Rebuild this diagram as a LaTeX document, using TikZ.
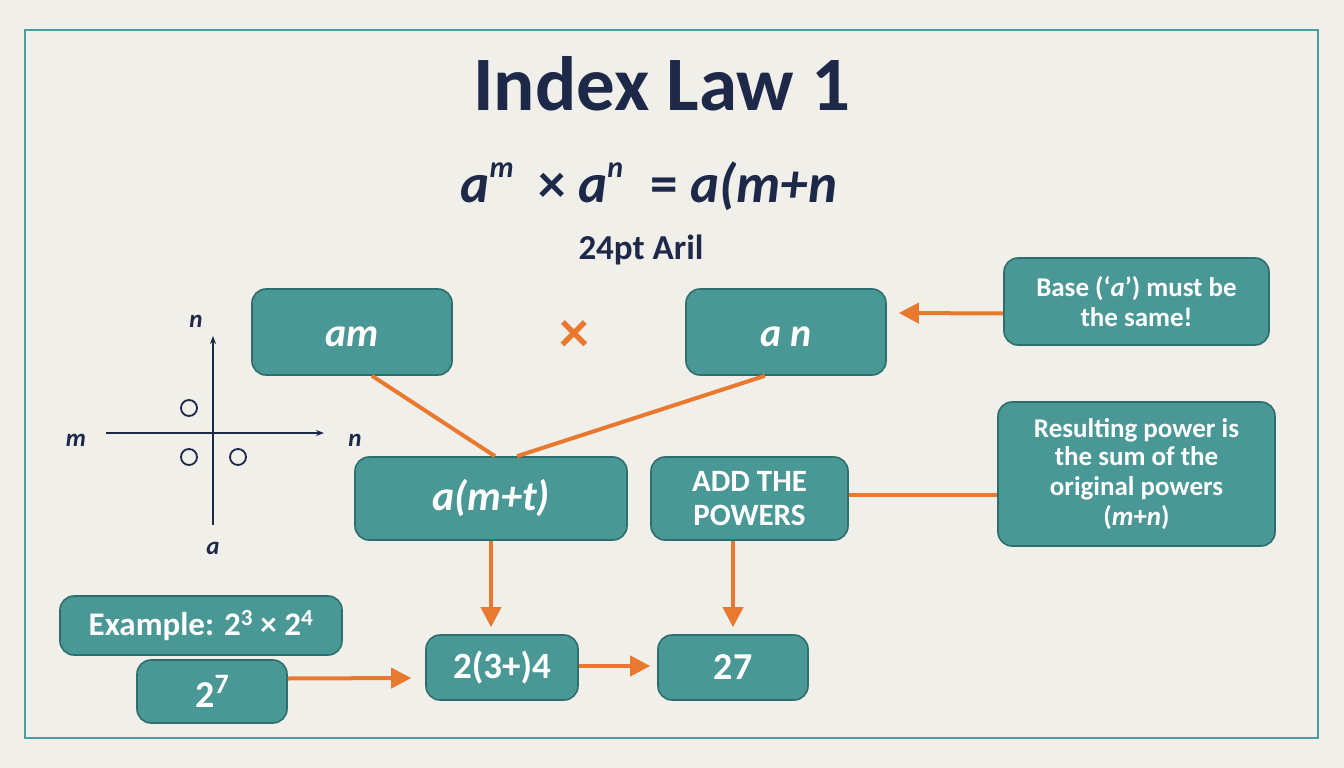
\documentclass[tikz,border=0pt]{standalone}
\usepackage{fontspec}
\setmainfont{Carlito}
\usetikzlibrary{arrows.meta,calc}
\definecolor{bgc}{HTML}{F1EFEA}
\definecolor{tealf}{HTML}{4A9896}
\definecolor{teald}{HTML}{2E6F6D}
\definecolor{framec}{HTML}{4A9E9C}
\definecolor{orng}{HTML}{E8792F}
\definecolor{navy}{HTML}{1E2849}
\newcommand{\fs}[1]{\fontsize{#1pt}{1.12\dimexpr#1pt\relax}\selectfont}
\newcommand{\lowr}[2]{\raisebox{-#1pt}[0pt][0pt]{#2}}
\tikzset{
  tbox/.style={draw=teald, line width=1.6pt, fill=tealf, rounded corners=14pt, inner sep=0pt, text=white, align=center, font=\bfseries},
  oline/.style={draw=orng, line width=4pt},
  oarr/.style={draw=orng, line width=4pt, -{Triangle[length=20pt,width=20pt]}},
  axis/.style={draw=navy, line width=1.6pt, -{Stealth[length=8pt,width=6pt]}},
  alab/.style={text=navy, font=\bfseries\itshape\fs{25}},
  circ/.style={draw=navy, line width=1.8pt},
}
\begin{document}
\begin{tikzpicture}[x=1pt,y=-1pt]
\useasboundingbox (0,0) rectangle (1344,768);
\fill[bgc] (0,0) rectangle (1344,768);
\draw[framec, line width=2.5pt] (25,30) rectangle (1318,738);

% titles
\node[text=navy, font=\bfseries\fs{77}] (title) at (662,84) {Index Law 1};
\node[text=navy, font=\bfseries\itshape\fs{55}] (formula) at (649,186) {a\raisebox{0.45em}{\fs{30}m}\hspace{0.45em}\upshape×\ \itshape a\raisebox{0.45em}{\fs{30}n}\hspace{0.5em}\upshape=\ \itshape a(m+n};
\node[text=navy, font=\bfseries\fs{35}] (sub) at (641,250) {24pt Aril};

% axis diagram
\coordinate (vb) at (213,525);
\coordinate (vt) at (213,336);
\coordinate (hl) at (106,433);
\coordinate (hr) at (324,433);
\draw[axis] (vb) -- (vt);
\draw[axis] (hl) -- (hr);
\node[alab] (ln) at (196,321) {n};
\node[alab] (lm) at (76,440) {m};
\node[alab] (lr) at (355,440) {n};
\node[alab] (la) at (213,548) {a};
\draw[circ] (189,408) circle (8);
\draw[circ] (189,457) circle (8);
\draw[circ] (238,457) circle (8);

% boxes
\node[tbox, minimum width=200pt, minimum height=86pt, font=\bfseries\itshape\fs{40}] (am) at (352,332) {\lowr{14}{am}};
\node[tbox, minimum width=200pt, minimum height=86pt, font=\bfseries\itshape\fs{40}] (an) at (786,332) {\lowr{14}{a n}};
\node[tbox, minimum width=265pt, minimum height=87pt, font=\bfseries\fs{27}] (base) at (1136.5,301.5) {Base (‘\textit{a}’) must be\\the same!};
\node[tbox, minimum width=272pt, minimum height=83pt, font=\bfseries\itshape\fs{42}] (amt) at (491,498.5) {\lowr{12}{a(m+t)}};
\node[tbox, minimum width=197pt, minimum height=83pt, font=\bfseries\fs{31}] (add) at (749.5,498.5) {ADD THE\\POWERS};
\node[tbox, minimum width=277pt, minimum height=144pt, font=\bfseries\fs{27}] (res) at (1136.5,474) {\raisebox{-2pt}{Resulting power is}\\the sum of the\\original powers\\(\textit{m}+\textit{n})};
\node[tbox, minimum width=282pt, minimum height=59pt, font=\bfseries\fs{33}] (ex) at (201,625.5) {Example: 2\textsuperscript{3} × 2\textsuperscript{4}};
\node[tbox, minimum width=150pt, minimum height=63pt, font=\bfseries\fs{38}] (s27) at (212,691.5) {2\raisebox{0.35em}{\fs{28}7}};
\node[tbox, minimum width=152pt, minimum height=65pt, font=\bfseries\fs{37}] (mid) at (502,667.5) {2(3+)4};
\node[tbox, minimum width=150pt, minimum height=65pt, font=\bfseries\fs{38}] (r27) at (733,667.5) {27};

% times sign
\node[text=orng, font=\bfseries\fs{60}] (times) at (574,337) {×};

% connectors
\coordinate (ae) at ($(add.east)+(0,-4)$);
\draw[oline] ($(am.south)+(20,0)$) -- ($(amt.north)+(4,0)$);
\draw[oline] ($(an.south)+(-21,0)$) -- ($(amt.north)+(26,0)$);
\draw[oarr] ($(base.west)+(0,12)$) -- ($(an.east)+(12,-19)$);
\draw[oline] (ae) -- (ae -| res.west);
\draw[oarr] (amt.south) -- ($(amt.south |- mid.north)+(0,-7)$);
\draw[oarr] (add.south -| r27.north) -- ($(r27.north)+(0,-7)$);
\draw[oarr] ($(s27.east)+(0,-13)$) -- ($(mid.west)+(-14,10.5)$);
\draw[oarr] ($(mid.east)+(0,-1.5)$) -- ($(r27.west)+(-7,-1.5)$);
\end{tikzpicture}
\end{document}
